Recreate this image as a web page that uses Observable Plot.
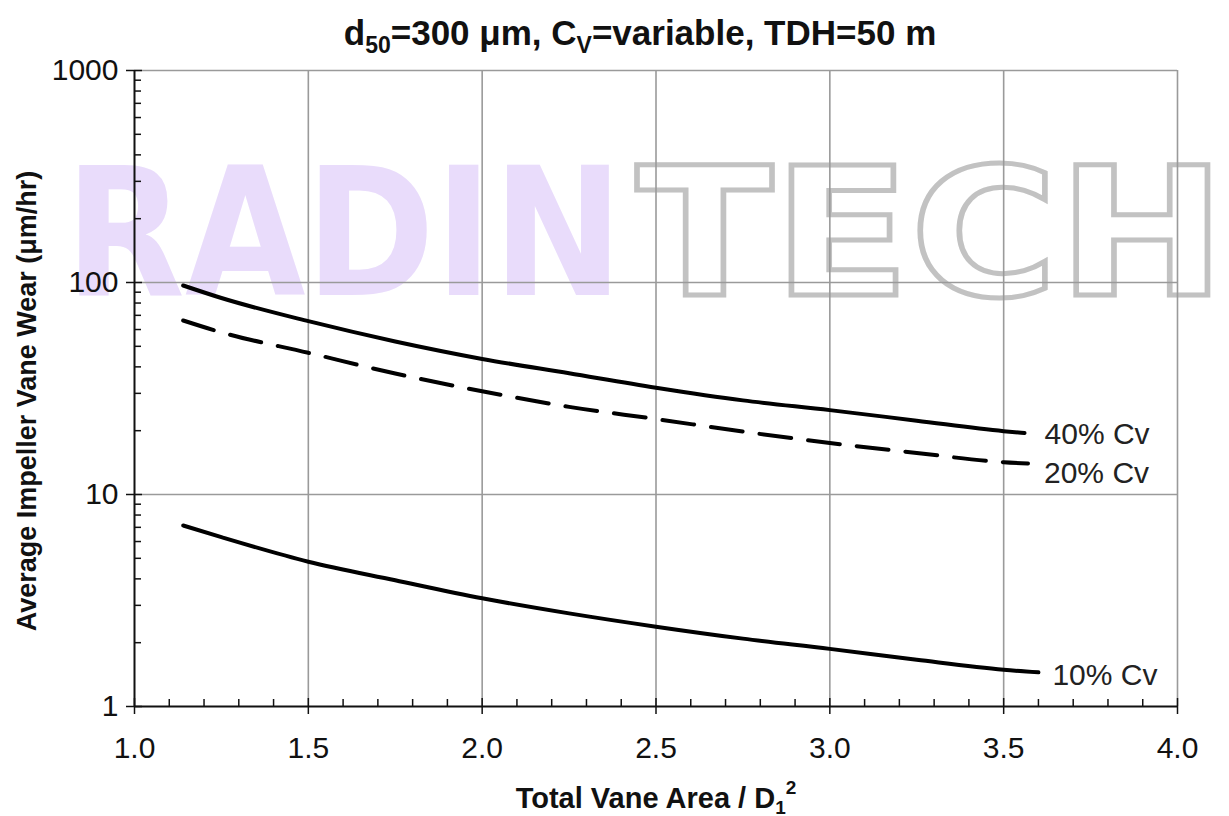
<!DOCTYPE html>
<html><head><meta charset="utf-8">
<script src="https://cdn.jsdelivr.net/npm/d3@7"></script>
<script src="https://cdn.jsdelivr.net/npm/@observablehq/plot@0.6"></script>
<style>
body{margin:0;background:#fff;}
svg{font-family:"Liberation Sans",Arial,sans-serif;}
</style>
</head><body><div id="chart"></div>
<script>
// ---- data ----
const areaX40 = [1.14, 1.25, 1.5, 1.75, 2.0, 2.25, 2.5, 2.75, 3.0, 3.25, 3.5, 3.56];
const wear40  = [96.8, 84.5, 65.7, 52.7, 43.6, 37.3, 31.9, 27.8, 25.0, 22.3, 19.9, 19.5];
const areaX20 = [1.14, 1.25, 1.5, 1.75, 2.0, 2.25, 2.5, 2.75, 3.0, 3.25, 3.5, 3.57];
const wear20  = [66.2, 58.2, 46.6, 37.2, 30.7, 25.9, 22.7, 19.8, 17.5, 15.7, 14.2, 14.0];
const areaX10 = [1.14, 1.25, 1.5, 1.75, 2.0, 2.25, 2.5, 2.75, 3.0, 3.25, 3.5, 3.6];
const wear10  = [7.14, 6.29, 4.82, 3.94, 3.24, 2.75, 2.38, 2.09, 1.87, 1.66, 1.49, 1.45];
const seriesNames = ["40% Cv", "20% Cv", "10% Cv"];
const xTicks = [1.0, 1.5, 2.0, 2.5, 3.0, 3.5, 4.0];
const yTicks = [1, 10, 100, 1000];
const xMinorTicks = [1.1,1.2,1.3,1.4,1.6,1.7,1.8,1.9,2.1,2.2,2.3,2.4,2.6,2.7,2.8,2.9,3.1,3.2,3.3,3.4,3.6,3.7,3.8,3.9];
const yMinorTicks = [2,3,4,5,6,7,8,9,20,30,40,50,60,70,80,90,200,300,400,500,600,700,800,900];
const titleParts = ["d", "50", "=300 μm, C", "V", "=variable, TDH=50 m"];
const xTitle = ["Total Vane Area / D", "1", "2"];
const yTitle = "Average Impeller Vane Wear (μm/hr)";
const watermark = ["RADIN", "TECH"];

const rows = (xs, ys, s) => xs.map((x, i) => ({x, y: ys[i], s}));
const d40 = rows(areaX40, wear40, seriesNames[0]);
const d20 = rows(areaX20, wear20, seriesNames[1]);
const d10 = rows(areaX10, wear10, seriesNames[2]);

const W = 1229, H = 816, ML = 134, MR = 52, MT = 70, MB = 110;
const FW = W - ML - MR, FH = H - MT - MB;
const grid = "#9a9a9a", ink = "#111";

const plot = Plot.plot({
  width: W, height: H,
  marginLeft: ML, marginRight: MR, marginTop: MT, marginBottom: MB,
  style: {background: "white", color: ink, fontFamily: "'Liberation Sans', Arial, sans-serif"},
  x: {domain: [1, 4], label: null},
  y: {type: "log", domain: [1, 1000], label: null},
  marks: [
    Plot.ruleX(xTicks.slice(1), {stroke: grid, strokeWidth: 1.6}),
    Plot.ruleY(yTicks.slice(1), {stroke: grid, strokeWidth: 1.6}),
    Plot.ruleX(xMinorTicks, {insetTop: FH - 7, stroke: ink, strokeWidth: 1.5}),
    Plot.ruleX(xTicks, {insetTop: FH - 8, stroke: ink, strokeWidth: 1.5}),
    Plot.ruleY(yMinorTicks, {insetRight: FW - 7, stroke: ink, strokeWidth: 1.5}),
    Plot.ruleY(yTicks, {insetRight: FW - 8, stroke: ink, strokeWidth: 1.5}),
    Plot.axisX(xTicks, {label: null, tickSize: 8, tickPadding: 22, tickFormat: d3.format(".1f"), fontSize: 30, strokeWidth: 1.5}),
    Plot.axisY(yTicks, {label: null, tickSize: 8, tickPadding: 8, tickFormat: d => String(d), fontSize: 30, strokeWidth: 1.5}),
    Plot.ruleX([1], {stroke: ink, strokeWidth: 2}),
    Plot.ruleY([1], {stroke: ink, strokeWidth: 2}),
    Plot.line(d40, {x: "x", y: "y", stroke: "#000", strokeWidth: 4, curve: "monotone-x"}),
    Plot.line(d20, {x: "x", y: "y", stroke: "#000", strokeWidth: 4, strokeDasharray: "32,17", curve: "monotone-x"}),
    Plot.line(d10, {x: "x", y: "y", stroke: "#000", strokeWidth: 4, curve: "monotone-x"}),
    Plot.text(d40.slice(-1), {x: "x", y: "y", text: "s", textAnchor: "start", dx: 20, dy: 1, fontSize: 30, fill: "#222"}),
    Plot.text(d20.slice(-1), {x: "x", y: "y", text: "s", textAnchor: "start", dx: 16, dy: 10, fontSize: 30, fill: "#222"}),
    Plot.text(d10.slice(-1), {x: "x", y: "y", text: "s", textAnchor: "start", dx: 14, dy: 3, fontSize: 30, fill: "#222"})
  ]
});

const svg = d3.select(plot);
// watermark behind the chart
const wm = svg.insert("g", ":first-child").attr("pointer-events", "none").attr("text-anchor", "start");
wm.append("text").attr("x", 65).attr("y", 295)
  .attr("font-family", "'DejaVu Sans', sans-serif").attr("font-weight", "bold")
  .attr("font-size", 178).attr("textLength", 558).attr("lengthAdjust", "spacingAndGlyphs")
  .attr("fill", "#e9dcfb").text(watermark[0]);
wm.append("text").attr("x", 636).attr("y", 295)
  .attr("font-family", "'DejaVu Sans', sans-serif").attr("font-weight", "bold")
  .attr("font-size", 178).attr("textLength", 590).attr("lengthAdjust", "spacingAndGlyphs")
  .attr("fill", "none").attr("stroke", "#c2c2c2").attr("stroke-width", 5).text(watermark[1]);

// title
const t = svg.append("text").attr("x", 640).attr("y", 45).attr("text-anchor", "middle")
  .attr("font-weight", "bold").attr("font-size", 35).attr("fill", ink);
t.append("tspan").text(titleParts[0]);
t.append("tspan").attr("font-size", 23).attr("dy", 8).text(titleParts[1]);
t.append("tspan").attr("dy", -8).text(titleParts[2]);
t.append("tspan").attr("font-size", 23).attr("dy", 8).text(titleParts[3]);
t.append("tspan").attr("dy", -8).text(titleParts[4]);

// x title
const xt = svg.append("text").attr("x", 656).attr("y", 808).attr("text-anchor", "middle")
  .attr("font-weight", "bold").attr("font-size", 29).attr("fill", ink);
xt.append("tspan").text(xTitle[0]);
xt.append("tspan").attr("font-size", 19).attr("dy", 6).text(xTitle[1]);
xt.append("tspan").attr("font-size", 19).attr("dy", -20).text(xTitle[2]);

// y title
svg.append("text").attr("transform", "translate(36,401) rotate(-90)").attr("text-anchor", "middle")
  .attr("font-weight", "bold").attr("font-size", 27).attr("fill", ink).text(yTitle);

document.getElementById("chart").appendChild(plot);
</script>
</body></html>
